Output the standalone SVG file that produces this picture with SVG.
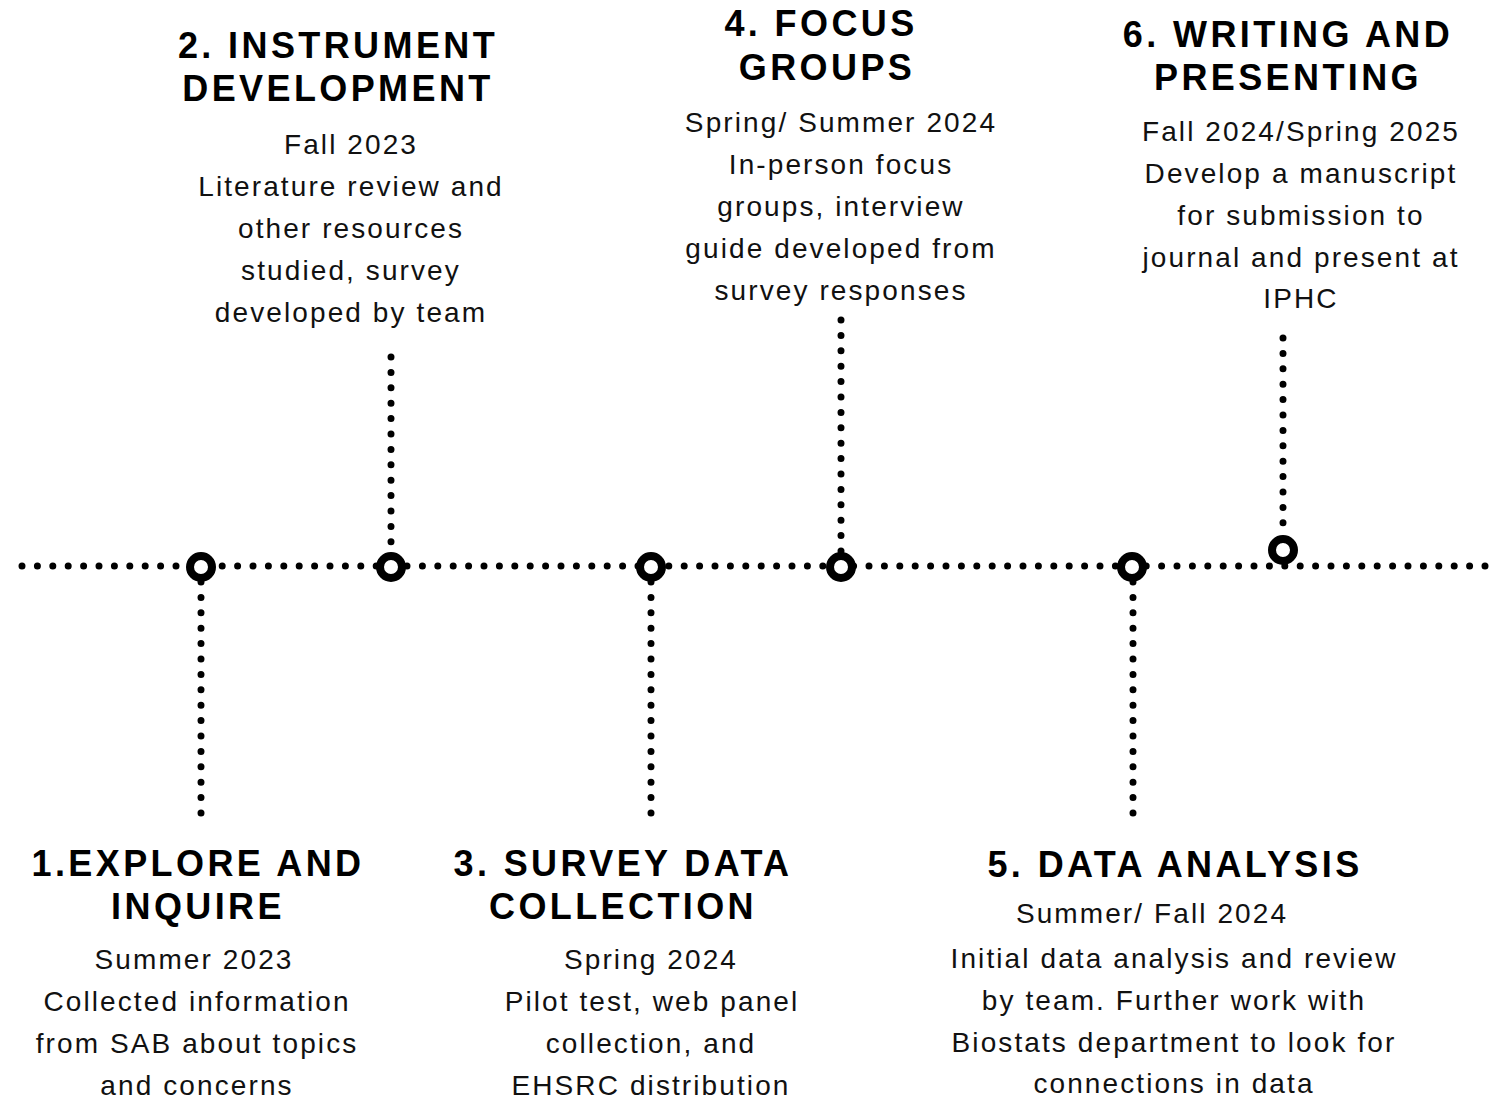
<svg xmlns="http://www.w3.org/2000/svg" width="1496" height="1099" viewBox="0 0 1496 1099">
<style>
.dot{fill:none;stroke:#000;stroke-width:7;stroke-linecap:round;stroke-dasharray:0 15.4}
.ring{fill:#fff;stroke:#000;stroke-width:8}
.h{font-family:"Liberation Sans",Arial,sans-serif;font-weight:bold;font-size:36px;letter-spacing:3.4px;fill:#000;text-anchor:middle}
.b{font-family:"Liberation Sans",Arial,sans-serif;font-size:28px;letter-spacing:2.1px;fill:#111;text-anchor:middle}
</style>
<rect width="1496" height="1099" fill="#fff"/>
<g id="connectors">
<line class="dot" x1="22" y1="566" x2="1490" y2="566"/>
<line class="dot" x1="201" y1="582" x2="201" y2="820"/>
<line class="dot" x1="391" y1="357" x2="391" y2="552"/>
<line class="dot" x1="651" y1="582" x2="651" y2="820"/>
<line class="dot" x1="841" y1="320" x2="841" y2="552"/>
<line class="dot" x1="1133" y1="582" x2="1133" y2="820"/>
<line class="dot" x1="1283" y1="338" x2="1283" y2="530"/>
</g>
<g id="markers">
<circle class="ring" cx="201" cy="567" r="11"/>
<circle class="ring" cx="391" cy="567" r="11"/>
<circle class="ring" cx="651" cy="567" r="11"/>
<circle class="ring" cx="841" cy="567" r="11"/>
<circle class="ring" cx="1132" cy="567" r="11"/>
<circle class="ring" cx="1283" cy="550" r="11"/>
</g>
<g id="node1">
<text class="h" x="198" y="876">1.EXPLORE AND</text>
<text class="h" x="198" y="919">INQUIRE</text>
<text class="b" x="194" y="969">Summer 2023</text>
<text class="b" x="197" y="1011">Collected information</text>
<text class="b" x="197" y="1053">from SAB about topics</text>
<text class="b" x="197" y="1095">and concerns</text>
</g>
<g id="node2">
<text class="h" x="338" y="58">2. INSTRUMENT</text>
<text class="h" x="338" y="101">DEVELOPMENT</text>
<text class="b" x="351" y="154">Fall 2023</text>
<text class="b" x="351" y="196">Literature review and</text>
<text class="b" x="351" y="238">other resources</text>
<text class="b" x="351" y="280">studied, survey</text>
<text class="b" x="351" y="322">developed by team</text>
</g>
<g id="node3">
<text class="h" x="623" y="876">3. SURVEY DATA</text>
<text class="h" x="623" y="919">COLLECTION</text>
<text class="b" x="651" y="969">Spring 2024</text>
<text class="b" x="652" y="1011">Pilot test, web panel</text>
<text class="b" x="651" y="1053">collection, and</text>
<text class="b" x="651" y="1095">EHSRC distribution</text>
</g>
<g id="node4">
<text class="h" x="821" y="36">4. FOCUS</text>
<text class="h" x="827" y="80">GROUPS</text>
<text class="b" x="841" y="132">Spring/ Summer 2024</text>
<text class="b" x="841" y="174">In-person focus</text>
<text class="b" x="841" y="216">groups, interview</text>
<text class="b" x="841" y="258">guide developed from</text>
<text class="b" x="841" y="300">survey responses</text>
</g>
<g id="node5">
<text class="h" x="1175" y="877">5. DATA ANALYSIS</text>
<text class="b" x="1152" y="923">Summer/ Fall 2024</text>
<text class="b" x="1174" y="968">Initial data analysis and review</text>
<text class="b" x="1174" y="1010">by team. Further work with</text>
<text class="b" x="1174" y="1052">Biostats department to look for</text>
<text class="b" x="1174" y="1093">connections in data</text>
</g>
<g id="node6">
<text class="h" x="1288" y="47">6. WRITING AND</text>
<text class="h" x="1288" y="90">PRESENTING</text>
<text class="b" x="1301" y="141">Fall 2024/Spring 2025</text>
<text class="b" x="1301" y="183">Develop a manuscript</text>
<text class="b" x="1301" y="225">for submission to</text>
<text class="b" x="1301" y="267">journal and present at</text>
<text class="b" x="1301" y="308">IPHC</text>
</g>
</svg>
